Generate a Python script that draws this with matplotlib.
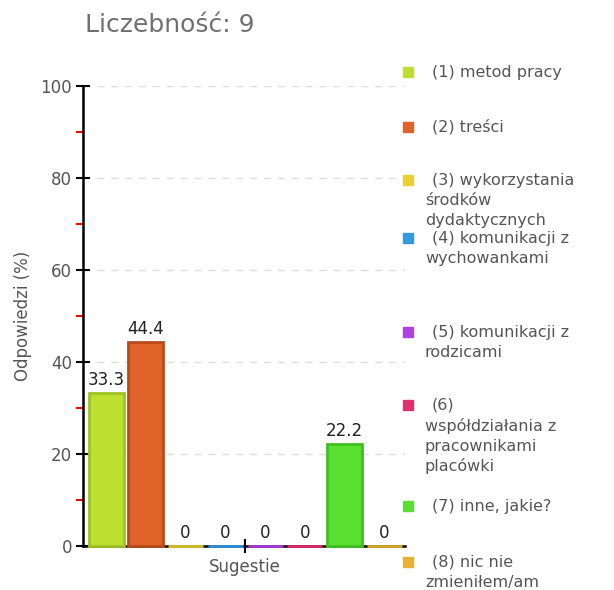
import numpy as np
import matplotlib.pyplot as plt
from matplotlib.ticker import MultipleLocator

# data
categories = [
    "(1) metod pracy",
    "(2) treści",
    "(3) wykorzystania\nśrodków\ndydaktycznych",
    "(4) komunikacji z\nwychowankami",
    "(5) komunikacji z\nrodzicami",
    "(6)\nwspółdziałania z\npracownikami\nplacówki",
    "(7) inne, jakie?",
    "(8) nic nie\nzmieniłem/am",
]
values = [33.3, 44.4, 0, 0, 0, 0, 22.2, 0]
value_labels = ["33.3", "44.4", "0", "0", "0", "0", "22.2", "0"]
colors = ["#bde030", "#e0632a", "#e8d030", "#3399e0",
          "#b040e0", "#e03070", "#5ae030", "#e8b030"]
edges = ["#9ec222", "#b84a1c", "#d8c028", "#2f8fd8",
         "#a838d8", "#d82868", "#40c020", "#d8a828"]
n_total = 9
group_label = "Sugestie"

fig = plt.figure(figsize=(6.14, 5.9), dpi=100)
W, H = 614, 590
ax = fig.add_axes([83 / W, 44 / H, 322 / W, 460 / H])

x = np.arange(len(values))
bars = ax.bar(x, values, width=0.88, color=colors, edgecolor=edges, linewidth=2, zorder=6)
for b in bars:
    b.set_clip_on(False)

for xi, v, lab in zip(x, values, value_labels):
    ax.text(xi, v + 0.8, lab, ha="center", va="bottom", fontsize=12, color="#222222", zorder=7)

ax.set_xlim(-0.58, 7.52)
ax.set_ylim(0, 100)

ax.yaxis.set_major_locator(MultipleLocator(20))
ax.yaxis.set_minor_locator(MultipleLocator(10))
ax.tick_params(axis="y", which="major", direction="inout", length=10, width=1.5,
               color="black", labelsize=12, labelcolor="#555555", pad=3)
ax.tick_params(axis="y", which="minor", direction="out", length=5, width=1.5, color="red")
ax.set_xticks([3.5])
ax.set_xticklabels([group_label])
ax.tick_params(axis="x", which="major", direction="inout", length=10, width=1.5,
               color="black", labelsize=12, labelcolor="#555555", pad=4)

for s in ["top", "right"]:
    ax.spines[s].set_visible(False)
ax.spines["left"].set_linewidth(1.8)
ax.spines["bottom"].set_linewidth(1.8)
ax.spines["bottom"].set_zorder(5)

ax.yaxis.grid(True, which="major", linestyle=(0, (5, 5)), color="#dddddd", linewidth=1, zorder=0)

ax.set_ylabel("Odpowiedzi (%)", fontsize=12, color="#555555", labelpad=6)

fig.text(85 / W, 1 - 25 / H, f"Liczebność: {n_total}", fontsize=18, color="#707070",
         ha="left", va="center")

# legend, drawn by hand
entry_y = [72, 127, 180, 238, 332, 405, 506, 562]
line_h = 20.5
for cat, col, ey in zip(categories, colors, entry_y):
    lines = cat.split("\n")
    fig.patches.append(plt.Rectangle((403 / W, 1 - (ey + 5) / H), 10 / W, 10 / H,
                                     transform=fig.transFigure, color=col))
    fig.text(432 / W, 1 - ey / H, lines[0], fontsize=11.5, color="#555555",
             ha="left", va="center")
    for k, ln in enumerate(lines[1:], start=1):
        fig.text(425 / W, 1 - (ey + k * line_h) / H, ln, fontsize=11.5, color="#555555",
                 ha="left", va="center")

fig.savefig("out.png", dpi=100)
